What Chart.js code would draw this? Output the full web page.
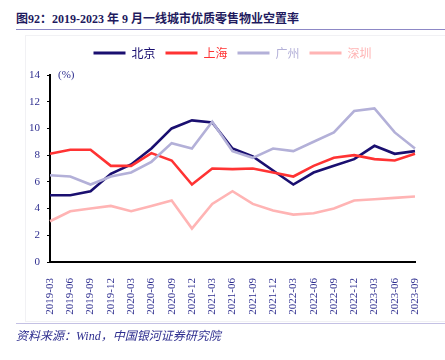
<!DOCTYPE html>
<html>
<head>
<meta charset="utf-8">
<script src="https://cdn.jsdelivr.net/npm/chart.js@4/dist/chart.umd.min.js"></script>
<style>
  html, body { margin:0; padding:0; width:445px; height:360px; overflow:hidden; background:#fff; }
  #frame { position:absolute; left:25px; top:35px; width:420px; height:287px; border:1px solid #f1f1f4; border-right:none; box-sizing:border-box; }
  #title { position:absolute; left:16px; top:9px; font:bold 12px "Liberation Serif","Noto Sans CJK SC",serif; color:#1e1a5e; white-space:nowrap; }
  #tline { position:absolute; left:16px; top:29px; width:429px; height:0; border-top:1.5px solid #8d88c6; }
  #bline { position:absolute; left:16px; top:323px; width:429px; height:0; border-top:1.5px solid #c4c1e4; }
  #source { position:absolute; left:16px; top:326px; font:italic 12px "Liberation Serif","Noto Sans CJK SC",serif; color:#2e2e8f; white-space:nowrap; }
  canvas { position:absolute; left:0; top:0; }
</style>
</head>
<body>
<div id="frame"></div>
<div id="title">图92：2019-2023 年 9 月一线城市优质零售物业空置率</div>
<div id="tline"></div>
<canvas id="c" width="445" height="360"></canvas>
<div id="bline"></div>
<div id="source">资料来源：Wind，中国银河证券研究院</div>
<script>
const categories = ["2019-03","2019-06","2019-09","2019-12","2020-03","2020-06","2020-09","2020-12","2021-03","2021-06","2021-09","2021-12","2022-03","2022-06","2022-09","2022-12","2023-03","2023-06","2023-09"];
const seriesNames = ["北京","上海","广州","深圳"];
const beijing   = [5.0,5.0,5.3,6.6,7.3,8.5,10.0,10.6,10.45,8.5,7.9,6.85,5.8,6.7,7.2,7.7,8.7,8.1,8.3];
const shanghai  = [8.1,8.4,8.4,7.2,7.2,8.15,7.6,5.8,7.0,6.95,7.0,6.7,6.4,7.2,7.8,8.0,7.7,7.6,8.1];
const guangzhou = [6.5,6.4,5.8,6.4,6.7,7.5,8.9,8.5,10.5,8.3,7.8,8.5,8.3,9.0,9.7,11.3,11.5,9.7,8.5];
const shenzhen  = [3.05,3.8,4.0,4.2,3.8,4.2,4.6,2.5,4.35,5.3,4.35,3.85,3.55,3.65,4.0,4.6,4.7,4.8,4.9];
const yTicks = [0,2,4,6,8,10,12,14];
const unitLabel = "(%)";

const colors = ["#1a0f70","#ff3333","#b3b0d8","#ffb4b4"];
const tickColor = "#2e2e8f";
const serif = "'Liberation Serif', 'Noto Sans CJK SC', serif";

const unitPlugin = {
  id: 'unit',
  beforeLayout(chart) {
    const lg = chart.legend;
    if (lg && !lg._gapPatched) {
      const f = lg.fit;
      lg.fit = function () { f.call(this); this.height += 6; };
      lg._gapPatched = true;
    }
  },
  afterDraw(chart) {
    const ctx = chart.ctx, a = chart.chartArea;
    ctx.save();
    ctx.font = "11px " + serif;
    ctx.fillStyle = tickColor;
    ctx.textBaseline = 'middle';
    ctx.textAlign = 'left';
    ctx.fillText(unitLabel, a.left + 8, a.top);
    ctx.restore();
  }
};

new Chart(document.getElementById('c'), {
  type: 'line',
  data: {
    labels: categories,
    datasets: [beijing, shanghai, guangzhou, shenzhen].map((d, i) => ({
      label: seriesNames[i],
      data: d,
      borderColor: colors[i],
      backgroundColor: colors[i],
      borderWidth: 2.6,
      pointRadius: 0,
      tension: 0,
      fill: false
    })).reverse()
  },
  options: {
    responsive: false,
    animation: false,
    devicePixelRatio: 1,
    layout: { padding: { top: 37, bottom: 0, left: 0, right: 30 } },
    plugins: {
      tooltip: { enabled: false },
      legend: {
        position: 'top',
        fullSize: false,
        reverse: true,
        labels: {
          boxWidth: 32,
          boxHeight: 3,
          padding: 10,
          font: { size: 12, family: "'Noto Sans CJK SC', serif" },
          generateLabels(chart) {
            return chart.data.datasets.map((ds, i) => ({
              text: ds.label,
              fillStyle: ds.borderColor,
              strokeStyle: ds.borderColor,
              lineWidth: 0,
              fontColor: ds.borderColor,
              hidden: false,
              datasetIndex: i
            }));
          }
        }
      }
    },
    scales: {
      x: {
        offset: false,
        afterFit(s) { s.height = 98; },
        grid: { display: false },
        border: { display: true, color: '#000', width: 2 },
        ticks: {
          autoSkip: false, maxRotation: 90, minRotation: 90, padding: 8,
          color: tickColor, font: { size: 11, family: serif }
        }
      },
      y: {
        min: 0, max: 14,
        afterFit(s) { s.width = 50; },
        afterBuildTicks(s) { s.ticks = yTicks.map(v => ({ value: v })); },
        grid: { display: true, drawOnChartArea: false, drawTicks: true, tickLength: 3, color: '#000', lineWidth: 1 },
        border: { display: true, color: '#000', width: 2 },
        ticks: { padding: 7, color: tickColor, font: { size: 11, family: serif } }
      }
    }
  },
  plugins: [unitPlugin]
});
</script>
</body>
</html>
